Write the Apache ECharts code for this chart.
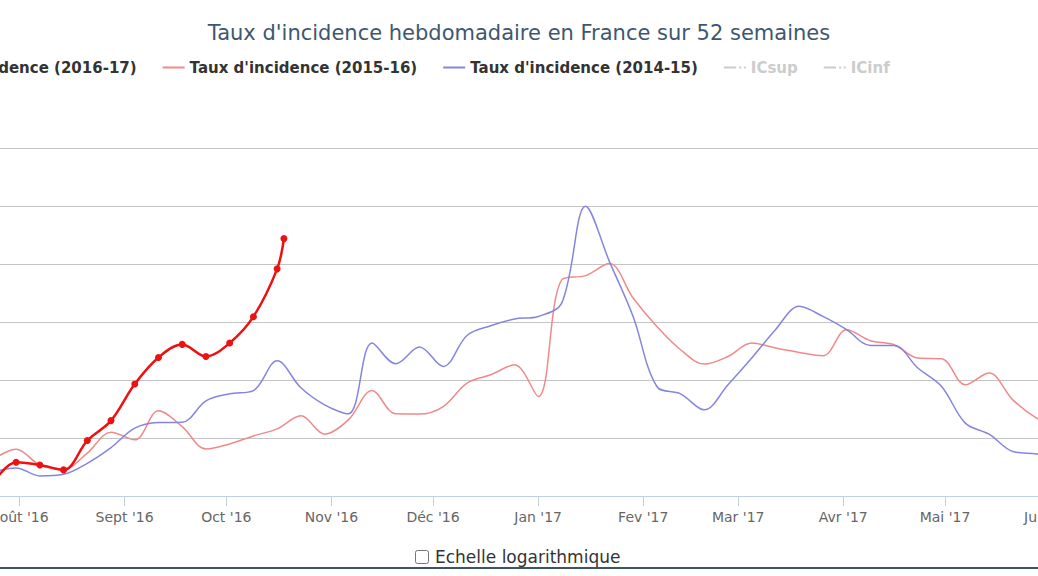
<!DOCTYPE html>
<html><head><meta charset="utf-8">
<script src="https://cdn.jsdelivr.net/npm/echarts@6/dist/echarts.min.js"></script>
<style>
html,body{margin:0;padding:0;width:1038px;height:576px;overflow:hidden;background:#fff;position:relative}
#chart{position:absolute;left:-150px;top:0;width:1338px;height:576px}
.rule{position:absolute;left:0;width:1038px;height:2px;background:#3b5663}
#log{position:absolute;left:415px;top:547px;font:17px "DejaVu Sans",sans-serif;color:#333;display:flex;align-items:center;height:20px}
#log input{margin:0 6px 0 0;width:14px;height:14px}
</style></head><body>
<div class="rule" style="top:5px"></div>
<div id="chart"></div>
<div class="rule" style="top:567px"></div>
<label id="log"><input type="checkbox">Echelle logarithmique</label>
<script>
const titleText = "Taux d'incidence hebdomadaire en France sur 52 semaines";
const seriesNames = ["Taux d'incidence (2016-17)", "Taux d'incidence (2015-16)", "Taux d'incidence (2014-15)", "ICsup", "ICinf"];

const monthTickDates = ['2016-08-01','2016-09-01','2016-10-01','2016-11-01','2016-12-01','2017-01-01','2017-02-01','2017-03-01','2017-04-01','2017-05-01','2017-06-01'];
const monthLabels = ["Août '16","Sept '16","Oct '16","Nov '16","Déc '16","Jan '17","Fev '17","Mar '17","Avr '17","Mai '17","Juin '17"];

const weekDates = ['2016-07-24','2016-07-31','2016-08-07','2016-08-14','2016-08-21','2016-08-28',
  '2016-09-04','2016-09-11','2016-09-18','2016-09-25','2016-10-02','2016-10-09','2016-10-16','2016-10-23','2016-10-30',
  '2016-11-06','2016-11-13','2016-11-20','2016-11-27','2016-12-04','2016-12-11','2016-12-18','2016-12-25',
  '2017-01-01','2017-01-08','2017-01-15','2017-01-22','2017-01-29','2017-02-05','2017-02-12','2017-02-19','2017-02-26',
  '2017-03-05','2017-03-12','2017-03-19','2017-03-26','2017-04-02','2017-04-09','2017-04-16','2017-04-23','2017-04-30',
  '2017-05-07','2017-05-14','2017-05-21','2017-05-28','2017-06-04'];

const dates2016_17 = ['2016-07-24','2016-07-31','2016-08-07','2016-08-14','2016-08-21','2016-08-28',
  '2016-09-04','2016-09-11','2016-09-18','2016-09-25','2016-10-02','2016-10-09','2016-10-16','2016-10-18'];
const rate2016_17 = [10.4, 29.1, 26.8, 22.5, 47.8, 65.0, 96.5, 119.4, 130.7, 120.3, 131.9, 154.6, 195.8, 221.9];

const rate2015_16 = [31.1, 40.3, 26.8, 23.1, 36.9, 55.0, 48.4, 73.4, 59.8, 40.6, 44.9, 51.8, 57.9, 69.1, 53.3,
  65.6, 90.9, 70.8, 70.6, 77.1, 97.3, 104.5, 113.1, 85.8, 186.5, 190.0, 200.4, 170.7, 146.2, 126.1, 113.7,
  120.3, 131.9, 127.6, 123.8, 120.9, 143.4, 133.9, 130.4, 118.9, 118.3, 95.9, 106.0, 82.9, 67.1, 58.7];

const rate2014_15 = [20.7, 24.2, 17.3, 18.7, 28.2, 41.7, 58.5, 63.3, 63.6, 82.0, 88.1, 90.9, 116.6, 93.3, 78.6,
  70.8, 131.9, 114.0, 128.4, 111.7, 138.4, 146.8, 152.6, 154.8, 166.7, 249.8, 202.3, 154.8, 94.4, 88.1, 74.3,
  95.9, 118.9, 143.4, 163.5, 154.8, 143.4, 129.8, 129.8, 110.3, 94.4, 62.8, 53.3, 38.3, 36.3, 32.8];

const icSup = [];
const icInf = [];

// x axis counts days since 1 Aug 2016
const DAY = 86400000;
function ts(s){ const p = s.split('-').map(Number); return Date.UTC(p[0], p[1]-1, p[2]); }
const aug1 = ts('2016-08-01');
function dayOf(s){ return (ts(s) - aug1) / DAY; }
const monthTicks = monthTickDates.map(dayOf);

function pair(dates, vals){ return vals.map((v,i)=>[dayOf(dates[i]), v]); }

const lineIcon = 'path://M0,0H22V2H0Z';
const dashDotIcon = 'path://M0,0H12V2H0Z M15,0H17V2H15Z M19.5,0H21.5V2H19.5Z';

const chart = echarts.init(document.getElementById('chart'), null, {renderer:'svg'});
const font = '"DejaVu Sans", Verdana, sans-serif';
chart.setOption({
  animation:false,
  backgroundColor:'#fff',
  title:{text:titleText, left:'center', top:17,
    textStyle:{fontSize:21, fontWeight:'normal', color:'#3E576F', fontFamily:font}},
  legend:{
    data:[
      {name:seriesNames[0], icon:lineIcon},
      {name:seriesNames[1], icon:lineIcon},
      {name:seriesNames[2], icon:lineIcon},
      {name:seriesNames[3], icon:dashDotIcon},
      {name:seriesNames[4], icon:dashDotIcon}
    ],
    left:27, top:55, itemWidth:22, itemHeight:2, itemGap:26, symbolKeepAspect:false,
    textStyle:{fontSize:15, fontWeight:'bold', color:'#333', fontFamily:font},
    inactiveColor:'#ccc',
    selected:{'ICsup':false,'ICinf':false}
  },
  grid:{left:0, right:0, top:148, bottom:80, containLabel:false, outerBoundsMode:'none'},
  xAxis:{
    type:'value', min:-50.0, max:344.69,
    axisLine:{show:true, lineStyle:{color:'#c0d0e0', width:1}},
    axisTick:{show:true, customValues:monthTicks, length:10, lineStyle:{color:'#c0d0e0'}},
    axisLabel:{customValues:monthTicks, color:'#666', fontSize:14, margin:14, fontFamily:font,
      formatter:function(v){
        for(let i=0;i<monthTicks.length;i++){ if(Math.abs(monthTicks[i]-v) < 0.5) return monthLabels[i]; }
        return '';
      }},
    splitLine:{show:false}
  },
  yAxis:{
    type:'value', min:0, max:300, interval:50,
    axisLabel:{show:false}, axisLine:{show:false}, axisTick:{show:false},
    splitLine:{show:true, lineStyle:{color:'#c4c4c4', width:1}}
  },
  series:[
    {name:seriesNames[0], type:'line', smooth:0.35, data:pair(dates2016_17, rate2016_17),
      symbol:'circle', symbolSize:7, showSymbol:true, z:5,
      itemStyle:{color:'#ee1111'}, lineStyle:{color:'#ee1111', width:2.5}},
    {name:seriesNames[1], type:'line', smooth:0.35, data:pair(weekDates, rate2015_16),
      symbol:'none', itemStyle:{color:'#f08a8a'}, lineStyle:{color:'#f08a8a', width:1.5}},
    {name:seriesNames[2], type:'line', smooth:0.35, data:pair(weekDates, rate2014_15),
      symbol:'none', itemStyle:{color:'#8585e0'}, lineStyle:{color:'#8585e0', width:1.5}},
    {name:seriesNames[3], type:'line', data:icSup, symbol:'none',
      itemStyle:{color:'#999'}, lineStyle:{color:'#999', width:1.5, type:[8,3,2,3]}},
    {name:seriesNames[4], type:'line', data:icInf, symbol:'none',
      itemStyle:{color:'#999'}, lineStyle:{color:'#999', width:1.5, type:[8,3,2,3]}}
  ]
});
</script>
</body></html>
